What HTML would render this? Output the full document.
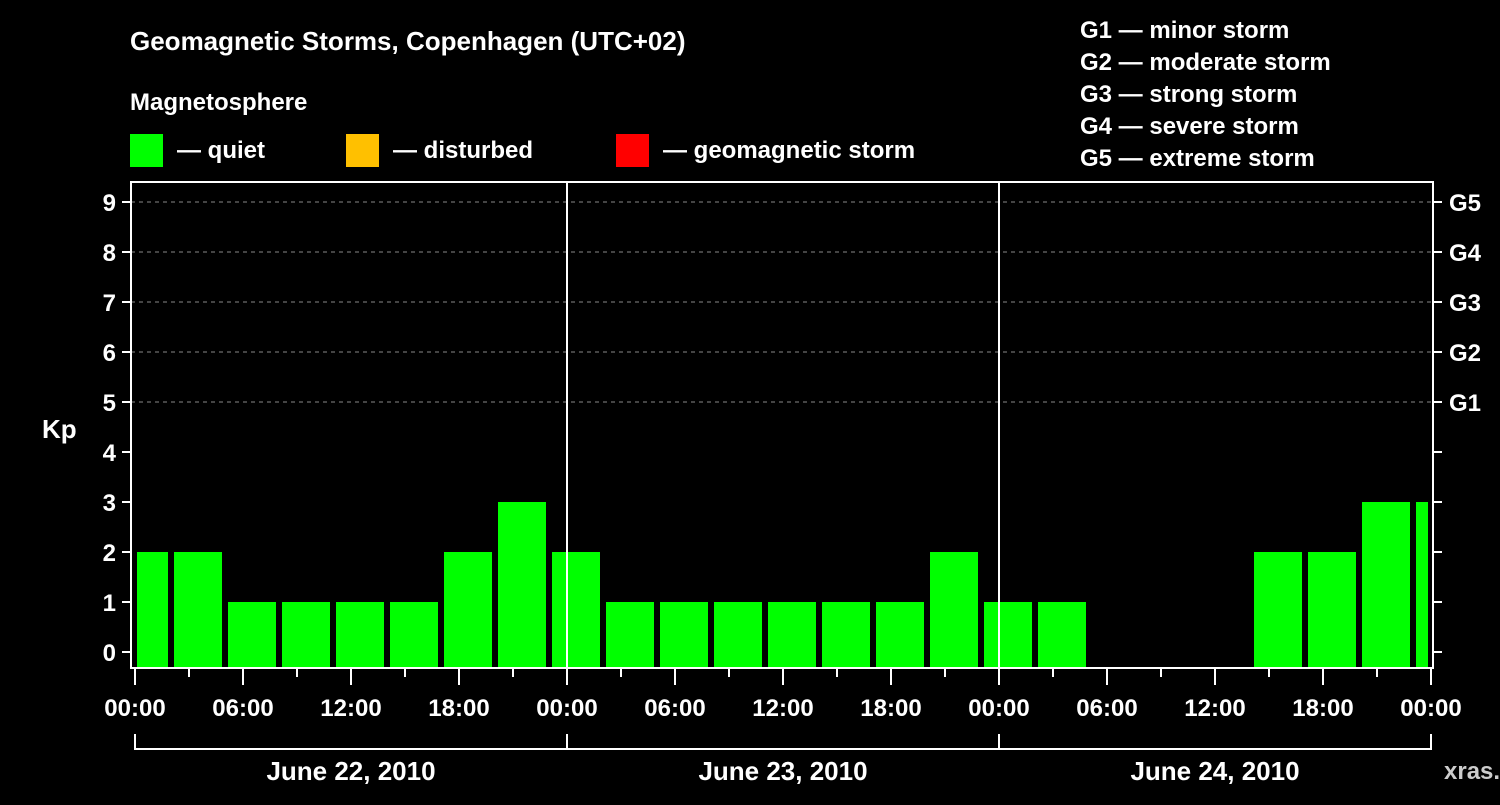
<!DOCTYPE html>
<html><head><meta charset="utf-8"><style>
body{margin:0;background:#000;width:1500px;height:800px;overflow:hidden}
svg text{font-family:"Liberation Sans",sans-serif;font-weight:bold;fill:#fff}
</style></head><body>
<svg id="c" width="1500" height="800">
<text x="130" y="50" font-size="26">Geomagnetic Storms, Copenhagen (UTC+02)</text>
<text x="130" y="110" font-size="24">Magnetosphere</text>
<g><rect x="130" y="134" width="33" height="33" fill="#00ff00"/><text x="177" y="158" font-size="24">— quiet</text></g>
<g><rect x="346" y="134" width="33" height="33" fill="#ffc000"/><text x="393" y="158" font-size="24">— disturbed</text></g>
<g><rect x="616" y="134" width="33" height="33" fill="#ff0000"/><text x="663" y="158" font-size="24">— geomagnetic storm</text></g>
<g font-size="24">
<text x="1080" y="38">G1 — minor storm</text>
<text x="1080" y="70">G2 — moderate storm</text>
<text x="1080" y="102">G3 — strong storm</text>
<text x="1080" y="134">G4 — severe storm</text>
<text x="1080" y="166">G5 — extreme storm</text>
</g>
<text x="42" y="438" font-size="26">Kp</text>
<text x="1444" y="779" font-size="24" fill="#bbb" style="fill:#ccc">xras.ru</text>
<g id="g"></g>
</svg>
<script>
const barStarts=[-1,2,5,8,11,14,17,20,23,26,29,32,35,38,41,44,47,50,62,65,68,71];
const kpValues=[2,2,1,1,1,1,2,3,2,1,1,1,1,1,1,2,1,1,2,2,3,3];
const xTickLabels=["00:00","06:00","12:00","18:00","00:00","06:00","12:00","18:00","00:00","06:00","12:00","18:00","00:00"];
const dayLabels=["June 22, 2010","June 23, 2010","June 24, 2010"];
const yTicks=[0,1,2,3,4,5,6,7,8,9];
const gLabels={5:"G1",6:"G2",7:"G3",8:"G4",9:"G5"};
const NS="http://www.w3.org/2000/svg",g=document.getElementById('g');
const X0=135,PH=18,PL=131,PR=1433,PT=182,PB=668;
const x=h=>X0+h*PH, y=v=>652-v*50;
function el(t,a,txt){const e=document.createElementNS(NS,t);for(const k in a)e.setAttribute(k,a[k]);if(txt!=null)e.textContent=txt;g.appendChild(e);return e;}
yTicks.forEach(v=>{
 if(v>=5){const l=el('line',{x1:PL,x2:PR,y1:y(v),y2:y(v),stroke:'#888','stroke-dasharray':'4,4'});
 
 }
 el('line',{x1:122,x2:PL,y1:y(v),y2:y(v),stroke:'#fff','stroke-width':2});
 el('line',{x1:PR,x2:1442,y1:y(v),y2:y(v),stroke:'#fff','stroke-width':2});
 const t=el('text',{x:116,y:y(v)+9,'font-size':24,'text-anchor':'end'},String(v));
 
 
 if(gLabels[v]){const r=el('text',{x:1449,y:y(v)+9,'font-size':24},gLabels[v]);
 
 }
});
barStarts.forEach((s,i)=>{
 let x1=x(s)+3,x2=x(s+3)-3;
 x1=Math.max(x1,x(0)+2);x2=Math.min(x2,x(72)-3);
 const v=kpValues[i];const c=v>=5?'#ff0000':v>=4?'#ffc000':'#00ff00';
 const b=el('rect',{x:x1,y:y(v),width:x2-x1,height:PB-y(v),fill:c});
 
 
});
[24,48].forEach(h=>el('line',{x1:x(h),x2:x(h),y1:PT,y2:PB,stroke:'#fff','stroke-width':2}));
const fr=el('rect',{x:PL,y:PT,width:PR-PL,height:PB-PT,fill:'none',stroke:'#fff','stroke-width':2});


for(let h=0;h<=72;h+=3){el('line',{x1:x(h),x2:x(h),y1:PB,y2:h%6==0?685:677,stroke:'#fff','stroke-width':2});}
xTickLabels.forEach((s,i)=>{const t=el('text',{x:x(i*6),y:716,'font-size':24,'text-anchor':'middle'},s);
 
 });
el('line',{x1:x(0),x2:x(72),y1:749,y2:749,stroke:'#fff','stroke-width':2});
[0,24,48,72].forEach(h=>el('line',{x1:x(h),x2:x(h),y1:734,y2:750,stroke:'#fff','stroke-width':2}));
dayLabels.forEach((s,i)=>{const t=el('text',{x:x(i*24+12),y:780,'font-size':26,'text-anchor':'middle'},s);
 
 });
</script>
</body></html>
